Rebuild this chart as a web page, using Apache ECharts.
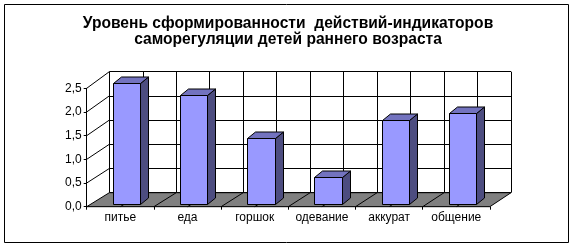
<!DOCTYPE html>
<html><head><meta charset="utf-8">
<script src="https://cdn.jsdelivr.net/npm/echarts@6/dist/echarts.min.js"></script>
<style>html,body{margin:0;padding:0;background:#fff}#c{width:576px;height:249px}</style>
</head><body><div id="c"></div>
<script>
// ---- data ----
const titleLines = ['Уровень сформированности  действий-индикаторов', 'саморегуляции детей раннего возраста'];
const categories = ['питье', 'еда', 'горшок', 'одевание', 'аккурат', 'общение'];
const values = [2.54, 2.28, 1.37, 0.55, 1.75, 1.91];
const yTicks = [0, 0.5, 1.0, 1.5, 2.0, 2.5];
const yMin = 0, yMax = 2.5, yStep = 0.5;

// ---- layout / style ----
const FONT = '"Liberation Sans", Arial, sans-serif';
const front = {left: 86.7, top: 88.3, width: 403.2, height: 118.4};
const back = {left: 109.3, top: 71.7, width: 401.7, height: 121};
const barScale = 47.6, barBase = 204;
const barPlane = {left: 86.7 + 6.7, top: barBase - yMax * barScale, width: 403.2, height: yMax * barScale};
const halfSteps = categories.length * 2;
const px = v => Math.round(v - 0.5) + 0.5;

const chart = echarts.init(document.getElementById('c'), null, {renderer: 'canvas'});

const option = {
  animation: false,
  backgroundColor: '#fff',
  title: {
    text: titleLines.join('\n'), left: 283, top: 10, textAlign: 'center',
    textStyle: {fontFamily: FONT, fontSize: 15.6, fontWeight: 'bold', color: '#000', lineHeight: 16.5}
  },
  grid: [
    {left: front.left, top: front.top, width: front.width, height: front.height},
    {left: back.left, top: back.top, width: back.width, height: back.height},
    {left: barPlane.left, top: barPlane.top, width: barPlane.width, height: barPlane.height}
  ],
  xAxis: [
    {gridIndex: 0, type: 'category', data: categories, boundaryGap: true,
     axisLine: {lineStyle: {color: '#000', width: 1}},
     axisTick: {show: true, length: 3, lineStyle: {color: '#000'}},
     axisLabel: {color: '#000', fontSize: 12, fontFamily: FONT, margin: 5, interval: 0, hideOverlap: false},
     splitLine: {show: false}},
    {gridIndex: 0, type: 'value', min: 0, max: halfSteps, show: false},
    {gridIndex: 1, type: 'value', min: 0, max: halfSteps, interval: 1,
     axisLine: {show: false}, axisTick: {show: false}, axisLabel: {show: false},
     splitLine: {show: true, lineStyle: {color: '#000', width: 1}}},
    {gridIndex: 2, type: 'category', data: categories, show: false}
  ],
  yAxis: [
    {gridIndex: 0, type: 'value', min: yMin, max: yMax, interval: yStep,
     axisLine: {show: true, lineStyle: {color: '#000', width: 1}},
     axisTick: {show: true, length: 3, lineStyle: {color: '#000'}},
     axisLabel: {color: '#000', fontSize: 12, fontFamily: FONT, margin: 5,
                 formatter: v => v.toFixed(1).replace('.', ',')},
     splitLine: {show: false}},
    {gridIndex: 1, type: 'value', min: yMin, max: yMax, interval: yStep,
     axisLine: {show: false}, axisTick: {show: false}, axisLabel: {show: false},
     splitLine: {show: true, lineStyle: {color: '#000', width: 1}}},
    {gridIndex: 2, type: 'value', min: yMin, max: yMax, show: false}
  ],
  series: [{
    type: 'custom', xAxisIndex: 3, yAxisIndex: 2, z: 10,
    data: values.map((v, i) => [i, v]),
    renderItem(params, api) {
      const top = api.coord([api.value(0), api.value(1)]);
      const base = api.coord([api.value(0), 0]);
      const w = 27.5, dx = 8, dy = -6.5;
      const x0 = px(top[0] - w / 2), x1 = px(top[0] + w / 2);
      const yt = px(top[1]), yb = px(base[1]);
      return {type: 'group', children: [
        {type: 'polygon', shape: {points: [[x1, yb], [x1 + dx, yb + dy], [x1 + dx, yt + dy], [x1, yt]]},
         style: {fill: '#4d4d80', stroke: '#000', lineWidth: 1}},
        {type: 'polygon', shape: {points: [[x0, yt], [x1, yt], [x1 + dx, yt + dy], [x0 + dx, yt + dy]]},
         style: {fill: '#7373bf', stroke: '#000', lineWidth: 1}},
        {type: 'rect', shape: {x: x0, y: yt, width: x1 - x0, height: yb - yt},
         style: {fill: '#9999ff', stroke: '#000', lineWidth: 1}}
      ]};
    }
  }]
};
chart.setOption(option);

// decorations (floor, floor lines, side-wall lines) located through the axes
const F = (k, v) => chart.convertToPixel({xAxisIndex: 1, yAxisIndex: 0}, [k, v]);
const B = (k, v) => chart.convertToPixel({xAxisIndex: 2, yAxisIndex: 1}, [k, v]);
const elements = [];
elements.push({type: 'polygon', z: 1,
  shape: {points: [F(0, 0), F(halfSteps, 0), B(halfSteps, 0), B(0, 0)]},
  style: {fill: '#808080', stroke: '#000', lineWidth: 1}});
for (let k = 1; k < halfSteps; k++) {
  const a = F(k, 0), b = B(k, 0);
  elements.push({type: 'line', z: 2, shape: {x1: a[0], y1: a[1], x2: b[0], y2: b[1]}, style: {stroke: '#000', lineWidth: 1}});
}
yTicks.forEach(v => {
  if (v === 0) return;
  const a = F(0, v), b = B(0, v);
  elements.push({type: 'line', z: 2, shape: {x1: a[0], y1: a[1], x2: b[0], y2: b[1]}, style: {stroke: '#000', lineWidth: 1}});
});
elements.push({type: 'rect', z: 20, shape: {x: 4.5, y: 4.5, width: 564, height: 238},
  style: {fill: null, stroke: '#000', lineWidth: 1}});
chart.setOption({graphic: {elements}});
</script>
</body></html>
